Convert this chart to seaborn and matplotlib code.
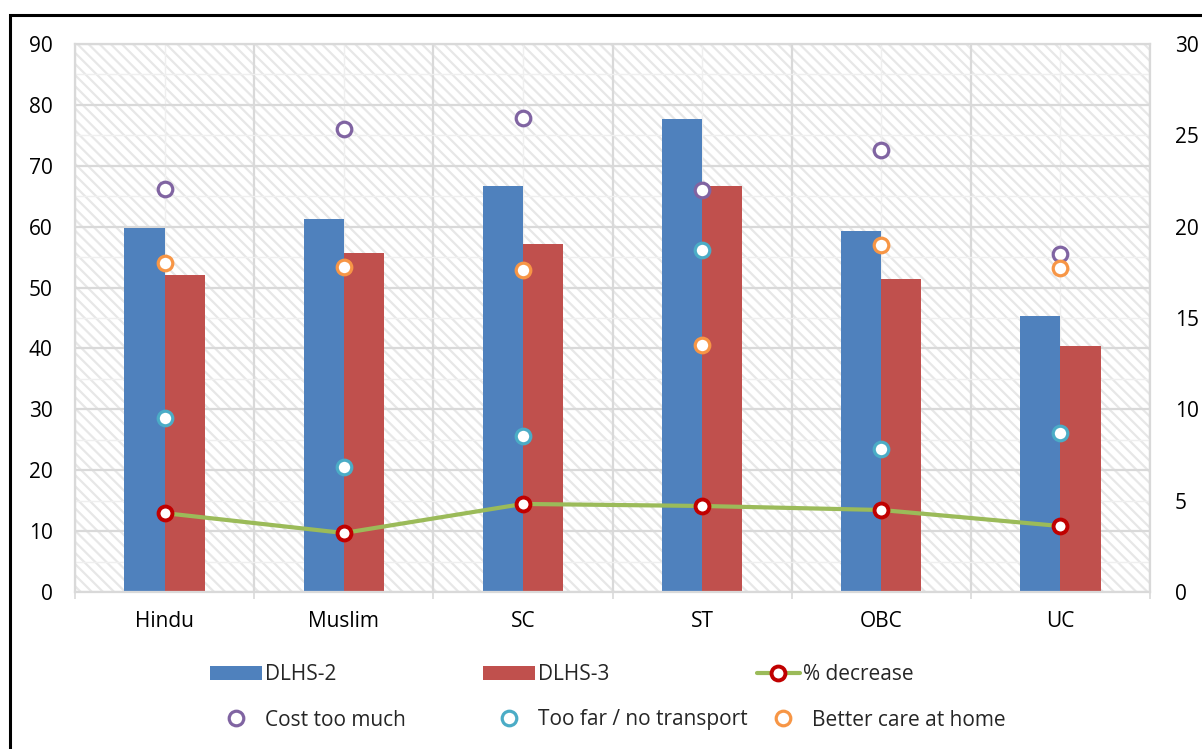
import matplotlib
matplotlib.use('Agg')
import matplotlib.pyplot as plt
import seaborn as sns
import pandas as pd
import numpy as np
from matplotlib.patches import Patch, Rectangle
from matplotlib.lines import Line2D

# ---------------- data ----------------
categories = ['Hindu', 'Muslim', 'SC', 'ST', 'OBC', 'UC']
dlhs2 = [59.8, 61.3, 66.7, 77.7, 59.3, 45.3]
dlhs3 = [52.1, 55.7, 57.1, 66.7, 51.4, 40.4]
pct_decrease = [4.32, 3.23, 4.82, 4.71, 4.49, 3.61]
cost_too_much = [66.2, 76.0, 77.8, 66.0, 72.6, 55.5]
too_far = [28.6, 20.5, 25.6, 56.2, 23.5, 26.1]
better_care = [54.0, 53.4, 52.9, 40.6, 57.0, 53.2]
left_ticks = list(range(0, 91, 10))
right_ticks = list(range(0, 31, 5))
series_names = ['DLHS-2', 'DLHS-3']
line_name = '% decrease'
scatter_names = ['Cost too much', 'Too far / no transport', 'Better care at home']

# ---------------- style ----------------
C_BLUE, C_RED, C_GREEN, C_DRED = '#4F81BD', '#C0504D', '#9BBB59', '#C00000'
C_PURPLE, C_TEAL, C_ORANGE = '#8064A2', '#4BACC6', '#F79646'
GRID = '#d9d9d9'
FS = 15

sns.set_theme(style='white')
plt.rcParams['font.family'] = ['Open Sans', 'DejaVu Sans']
plt.rcParams['hatch.linewidth'] = 1.6

W, H = 1202, 749
fig = plt.figure(figsize=(W / 100, H / 100), dpi=100)
x0, x1, y0, y1 = 75, 1150, 44, 592
ax = fig.add_axes([x0 / W, 1 - y1 / H, (x1 - x0) / W, (y1 - y0) / H])

# hatched background
ax.add_patch(Rectangle((0, 0), 1, 1, transform=ax.transAxes, facecolor='white',
                       edgecolor='#e7e7e7', hatch='\\\\\\', lw=0, zorder=0))

bars_df = pd.DataFrame({
    'category': categories * 2,
    'value': dlhs2 + dlhs3,
    'survey': [series_names[0]] * len(categories) + [series_names[1]] * len(categories),
})
sns.barplot(data=bars_df, x='category', y='value', hue='survey', order=categories,
            hue_order=series_names, palette=[C_BLUE, C_RED], width=0.448, gap=0,
            errorbar=None, saturation=1, linewidth=0, legend=False, ax=ax)

for vals, col in [(cost_too_much, C_PURPLE), (too_far, C_TEAL), (better_care, C_ORANGE)]:
    sns.pointplot(x=categories, y=vals, order=categories, color=col, markers='o',
                  linestyle='none', markersize=10.5, markeredgewidth=2.3,
                  markerfacecolor='white', errorbar=None, ax=ax)

ax2 = ax.twinx()
sns.pointplot(x=categories, y=pct_decrease, order=categories, color=C_GREEN, markers='o',
              linewidth=3.0, markersize=10, markeredgewidth=2.8, markerfacecolor='white',
              markeredgecolor=C_DRED, errorbar=None, ax=ax2)

# ---------------- axes ----------------
ax.set_xlim(-0.5, len(categories) - 0.5)
ax.set_ylim(0, 90)
ax2.set_ylim(0, 30)
ax.set_xticks(range(len(categories)))
ax.set_xticklabels(categories)
ax.set_xticks(np.arange(-0.5, len(categories), 1), minor=True)
ax.set_yticks(left_ticks)
ax.set_yticks(range(5, 90, 10), minor=True)
ax2.set_yticks(right_ticks)
ax.set_xlabel('')
ax.set_ylabel('')
ax2.set_xlabel('')
ax2.set_ylabel('')

ax.set_axisbelow(True)
ax.grid(which='major', axis='y', color=GRID, lw=1.6)
ax.grid(which='minor', axis='y', color='#efefef', lw=1.0)
ax.grid(which='minor', axis='x', color=GRID, lw=1.6)
ax.grid(which='major', axis='x', color='#efefef', lw=1.0)
ax2.grid(False)

ax.tick_params(axis='y', which='both', length=0, pad=16, labelsize=FS, labelcolor='black')
ax.tick_params(axis='x', which='major', length=0, pad=14, labelsize=FS, labelcolor='black')
ax.tick_params(axis='x', which='minor', length=5, width=1.2, color=GRID, bottom=True)
ax2.tick_params(axis='y', length=0, pad=18, labelsize=FS, labelcolor='black')

for s in ax.spines.values():
    s.set_visible(True)
    s.set_color(GRID)
    s.set_linewidth(1.6)
for s in ax2.spines.values():
    s.set_visible(False)

# ---------------- legend ----------------
legend_items = [
    (Patch(facecolor=C_BLUE, lw=0), series_names[0], 210, 675, 2.5),
    (Patch(facecolor=C_RED, lw=0), series_names[1], 483, 675, 2.5),
    (Line2D([0], [0], color=C_GREEN, lw=3.0, marker='o', ms=10, mew=2.8,
            mfc='white', mec=C_DRED), line_name, 757, 675, 2.05),
    (Line2D([], [], ls='none', marker='o', ms=10.5, mew=2.3, mfc='white', mec=C_PURPLE),
     scatter_names[0], 210, 720, 2.5),
    (Line2D([], [], ls='none', marker='o', ms=10.5, mew=2.3, mfc='white', mec=C_TEAL),
     scatter_names[1], 483, 720, 2.5),
    (Line2D([], [], ls='none', marker='o', ms=10.5, mew=2.3, mfc='white', mec=C_ORANGE),
     scatter_names[2], 757, 720, 2.5),
]
for h, lab, lx, ly, hl in legend_items:
    fig.legend(handles=[h], labels=[lab], loc='center left',
               bbox_to_anchor=(lx / W, 1 - ly / H), frameon=False, borderpad=0,
               borderaxespad=0, handlelength=hl, handleheight=0.65, handletextpad=0.15,
               fontsize=FS)

# outer frame
fig.add_artist(Rectangle((10 / W, -0.1), 1.2, (1 - 15 / H) + 0.1, transform=fig.transFigure,
                         fill=False, edgecolor='black', lw=2.2))

fig.savefig('out.png', dpi=100)
